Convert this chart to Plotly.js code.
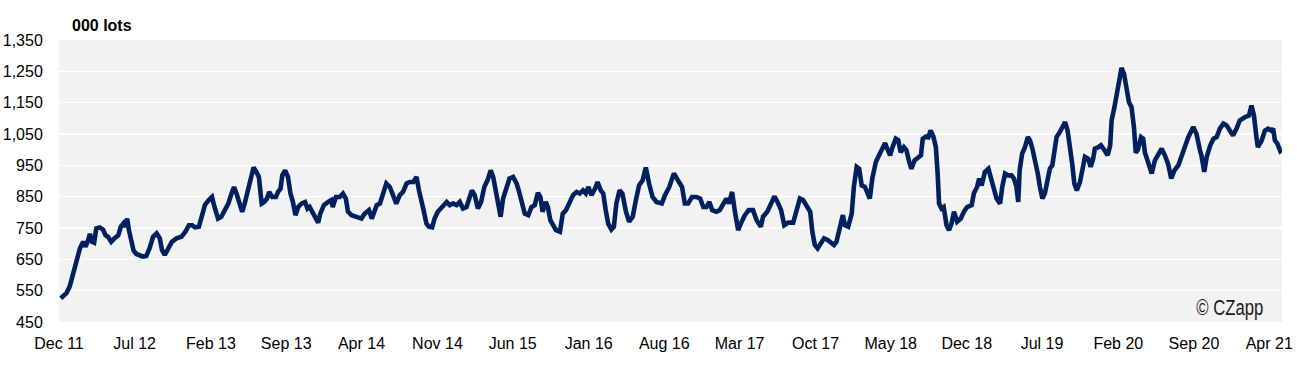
<!DOCTYPE html>
<html>
<head>
<meta charset="utf-8">
<script src="https://cdn.plot.ly/plotly-3.0.1.min.js"></script>
<style>
  html, body { margin: 0; padding: 0; background: #ffffff; }
  #chart { width: 1299px; height: 378px; }
</style>
</head>
<body>
<div id="chart"></div>
<script>
// Weekly-ish readings of open interest (000 lots)
const dates = [
"2011-12-06","2011-12-22","2011-12-31","2012-01-09","2012-01-19","2012-01-29","2012-02-07","2012-02-14","2012-02-21","2012-02-26",
"2012-03-03","2012-03-09","2012-03-15","2012-03-25","2012-04-03","2012-04-10","2012-04-17","2012-04-26","2012-05-05","2012-05-16",
"2012-05-23","2012-05-30","2012-06-03","2012-06-10","2012-06-15","2012-06-22","2012-06-28","2012-07-06","2012-07-18","2012-07-24",
"2012-08-03","2012-08-12","2012-08-22","2012-09-01","2012-09-10","2012-09-16","2012-09-24","2012-10-03","2012-10-14","2012-10-27",
"2012-11-10","2012-11-21","2012-12-01","2012-12-10","2012-12-18","2012-12-29","2013-01-07","2013-01-15","2013-01-24","2013-02-04",
"2013-02-11","2013-02-21","2013-03-02","2013-03-12","2013-03-22","2013-03-31","2013-04-07","2013-04-14","2013-04-23","2013-04-30",
"2013-05-07","2013-05-16","2013-05-26","2013-06-01","2013-06-09","2013-06-16","2013-06-24","2013-07-01","2013-07-09","2013-07-15",
"2013-07-24","2013-08-03","2013-08-09","2013-08-16","2013-08-21","2013-08-29","2013-09-06","2013-09-13","2013-09-20","2013-09-27",
"2013-10-05","2013-10-14","2013-10-24","2013-10-31","2013-11-06","2013-11-16","2013-11-23","2013-11-30","2013-12-06","2013-12-16",
"2013-12-28","2014-01-06","2014-01-10","2014-01-19","2014-01-30","2014-02-08","2014-02-16","2014-02-22","2014-03-04","2014-03-18",
"2014-04-01","2014-04-10","2014-04-22","2014-04-30","2014-05-07","2014-05-14","2014-05-23","2014-06-01","2014-06-10","2014-06-20",
"2014-06-26","2014-07-08","2014-07-18","2014-07-27","2014-08-06","2014-08-15","2014-08-25","2014-09-03","2014-09-10","2014-09-17",
"2014-09-23","2014-10-01","2014-10-08","2014-10-17","2014-10-24","2014-11-02","2014-11-14","2014-11-27","2014-12-06","2014-12-15",
"2014-12-25","2015-01-03","2015-01-12","2015-01-22","2015-01-31","2015-02-06","2015-02-14","2015-02-23","2015-03-04","2015-03-13",
"2015-03-22","2015-03-31","2015-04-07","2015-04-16","2015-04-24","2015-04-28","2015-05-05","2015-05-14","2015-05-23","2015-06-02",
"2015-06-12","2015-06-18","2015-06-28","2015-07-05","2015-07-15","2015-07-24","2015-08-02","2015-08-11","2015-08-18","2015-08-24",
"2015-09-02","2015-09-08","2015-09-15","2015-09-23","2015-10-01","2015-10-12","2015-10-20","2015-10-29","2015-11-07","2015-11-18",
"2015-11-28","2015-12-07","2015-12-16","2015-12-24","2015-12-31","2016-01-09","2016-01-19","2016-01-26","2016-02-04","2016-02-11",
"2016-02-18","2016-02-25","2016-03-05","2016-03-12","2016-03-19","2016-03-28","2016-04-05","2016-04-15","2016-04-24","2016-05-04",
"2016-05-13","2016-05-22","2016-06-01","2016-06-10","2016-06-19","2016-06-29","2016-07-10","2016-07-25","2016-08-03","2016-08-15",
"2016-08-28","2016-09-07","2016-09-14","2016-09-20","2016-09-28","2016-10-07","2016-10-18","2016-10-30","2016-11-10","2016-11-19",
"2016-11-28","2016-12-06","2016-12-14","2016-12-26","2017-01-04","2017-01-14","2017-01-23","2017-01-30","2017-02-08","2017-02-16",
"2017-02-25","2017-03-07","2017-03-16","2017-03-27","2017-04-08","2017-04-18","2017-04-30","2017-05-06","2017-05-18","2017-05-29",
"2017-06-07","2017-06-16","2017-06-26","2017-07-05","2017-07-16","2017-07-30","2017-08-08","2017-08-18","2017-08-27","2017-09-06",
"2017-09-16","2017-09-22","2017-09-29","2017-10-07","2017-10-16","2017-10-25","2017-11-04","2017-11-13","2017-11-22","2017-11-29",
"2017-12-06","2017-12-17","2017-12-23","2018-01-01","2018-01-11","2018-01-17","2018-01-25","2018-02-01","2018-02-08","2018-02-17",
"2018-02-23","2018-03-03","2018-03-10","2018-03-20","2018-03-29","2018-04-08","2018-04-15","2018-04-21","2018-04-29","2018-05-06",
"2018-05-15","2018-05-22","2018-05-29","2018-06-07","2018-06-14","2018-06-22","2018-06-28","2018-07-07","2018-07-18","2018-07-25",
"2018-07-30","2018-08-08","2018-08-15","2018-08-21","2018-08-29","2018-09-05","2018-09-10","2018-09-14","2018-09-21","2018-09-27",
"2018-10-05","2018-10-12","2018-10-19","2018-10-26","2018-11-04","2018-11-14","2018-11-23","2018-12-02","2018-12-15","2018-12-21",
"2018-12-30","2019-01-05","2019-01-12","2019-01-21","2019-01-31","2019-02-05","2019-02-14","2019-02-23","2019-03-05","2019-03-11",
"2019-03-19","2019-03-28","2019-04-06","2019-04-13","2019-04-20","2019-04-25","2019-04-29","2019-05-06","2019-05-14","2019-05-22",
"2019-05-28","2019-06-04","2019-06-11","2019-06-19","2019-06-25","2019-07-02","2019-07-09","2019-07-17","2019-07-23","2019-07-30",
"2019-08-04","2019-08-11","2019-08-20","2019-08-29","2019-09-04","2019-09-11","2019-09-18","2019-09-24","2019-09-30","2019-10-07",
"2019-10-16","2019-10-22","2019-10-30","2019-11-08","2019-11-15","2019-11-22","2019-11-27","2019-12-07","2019-12-14","2019-12-24",
"2020-01-02","2020-01-09","2020-01-13","2020-01-21","2020-01-27","2020-02-03","2020-02-10","2020-02-17","2020-02-24","2020-03-02",
"2020-03-09","2020-03-16","2020-03-21","2020-03-27","2020-04-05","2020-04-11","2020-04-16","2020-04-30","2020-05-05","2020-05-14",
"2020-05-25","2020-06-02","2020-06-11","2020-06-20","2020-06-29","2020-07-08","2020-07-19","2020-07-29","2020-08-07","2020-08-16",
"2020-08-30","2020-09-08","2020-09-18","2020-09-22","2020-09-30","2020-10-07","2020-10-17","2020-10-26","2020-11-04","2020-11-13",
"2020-11-23","2020-12-02","2020-12-11","2020-12-20","2020-12-30","2021-01-08","2021-01-23","2021-02-03","2021-02-10","2021-02-17",
"2021-02-24","2021-02-28","2021-03-11","2021-03-20","2021-03-29","2021-04-06","2021-04-12","2021-04-17","2021-04-24","2021-05-02",
"2021-05-06"
];
const lots = [
526,542,563,600,637,685,706,690,711,731,
706,703,749,752,745,727,722,706,717,727,
754,764,754,780,743,711,678,667,664,659,
661,685,722,733,717,680,664,685,706,717,
722,738,759,759,752,754,786,823,837,849,
817,780,786,807,828,860,881,860,828,802,
828,870,913,943,929,913,828,833,844,865,
849,849,865,876,918,934,913,860,833,791,
817,828,833,812,817,796,775,767,796,823,
833,839,817,849,849,860,844,802,791,786,
780,796,807,780,802,823,828,860,892,881,
860,828,855,865,892,897,897,913,870,828,
807,764,754,752,780,802,817,833,823,828,
823,833,812,817,849,870,855,812,833,881,
902,934,913,860,828,786,844,881,908,913,
892,870,820,796,791,817,823,862,849,802,
833,817,775,759,743,738,796,807,833,855,
865,860,870,860,881,855,876,897,870,860,
807,764,745,754,828,870,860,802,770,786,
839,886,902,943,892,849,833,828,855,881,
924,902,892,881,828,828,849,849,844,817,
817,833,807,802,807,828,844,828,865,802,
743,770,791,807,807,775,754,786,802,828,
851,833,807,759,767,767,802,844,839,823,
802,738,696,685,701,717,712,706,696,706,
743,791,759,754,796,881,945,939,886,881,
865,844,908,961,982,1008,1021,1003,982,1008,
1035,1030,992,1008,998,961,939,966,977,982,
1035,1042,1040,1061,1042,1008,924,828,812,817,
759,743,764,802,770,780,802,817,823,860,
881,908,886,929,939,913,881,844,828,881,
924,918,918,908,881,833,934,987,1008,1040,
1030,1003,971,924,881,844,860,902,939,950,
987,1040,1056,1072,1088,1061,1014,955,892,870,
897,939,977,971,945,971,1003,1008,1014,998,
982,1014,1093,1136,1178,1220,1261,1242,1204,1151,
1136,1072,990,1000,1040,1035,990,934,924,966,
987,1003,982,955,908,934,950,982,1014,1040,
1072,1051,998,982,929,977,1014,1035,1040,1067,
1083,1077,1061,1045,1067,1093,1104,1109,1141,1109,
1040,1008,1030,1061,1067,1061,1067,1030,1019,996,
1000
];

const tickDates = ["2011-12-01","2012-07-01","2013-02-01","2013-09-01","2014-04-01","2014-11-01",
  "2015-06-01","2016-01-01","2016-08-01","2017-03-01","2017-10-01","2018-05-01","2018-12-01",
  "2019-07-01","2020-02-01","2020-09-01","2021-04-01"];
const tickLabels = ["Dec 11","Jul 12","Feb 13","Sep 13","Apr 14","Nov 14","Jun 15","Jan 16",
  "Aug 16","Mar 17","Oct 17","May 18","Dec 18","Jul 19","Feb 20","Sep 20","Apr 21"];

const unitLabel = "000 lots";
const sourceLabel = "© CZapp";

const trace = {
  x: dates,
  y: lots,
  type: "scatter",
  mode: "lines",
  line: { color: "#002060", width: 4.6, shape: "linear" },
  hoverinfo: "x+y"
};

const layout = {
  width: 1299,
  height: 378,
  margin: { l: 59, r: 17, t: 40, b: 56, pad: 0 },
  paper_bgcolor: "#ffffff",
  plot_bgcolor: "#f2f2f2",
  showlegend: false,
  font: { family: "Arial, 'Liberation Sans', sans-serif", size: 16, color: "#000000" },
  xaxis: {
    type: "date",
    range: ["2011-12-01", "2021-05-07"],
    tickmode: "array",
    tickvals: tickDates,
    ticktext: tickLabels,
    showgrid: false,
    zeroline: false,
    showline: false,
    ticks: "outside",
    ticklen: 7,
    tickcolor: "rgba(0,0,0,0)",
    tickfont: { size: 16, color: "#000000" },
    fixedrange: true
  },
  yaxis: {
    range: [450, 1350],
    tick0: 450,
    dtick: 100,
    tickformat: ",d",
    showgrid: true,
    gridcolor: "#ffffff",
    gridwidth: 1.5,
    zeroline: false,
    showline: false,
    ticks: "outside",
    ticklen: 12,
    tickcolor: "rgba(0,0,0,0)",
    tickfont: { size: 16, color: "#000000" },
    fixedrange: true
  },
  annotations: [
    {
      text: "<b>" + unitLabel + "</b>",
      xref: "paper", yref: "paper",
      x: 0.009, y: 1.051,
      xanchor: "left", yanchor: "middle",
      showarrow: false,
      font: { size: 16, color: "#000000", family: "Arial, 'Liberation Sans', sans-serif" }
    },
    {
      text: sourceLabel,
      xref: "paper", yref: "paper",
      x: 0.986, y: 0.05,
      xanchor: "right", yanchor: "middle",
      showarrow: false,
      font: { size: 22, color: "#1a1a1a", family: "'Liberation Sans Narrow', 'Arial Narrow', Arial, sans-serif" }
    }
  ]
};

Plotly.newPlot("chart", [trace], layout, { displayModeBar: false, staticPlot: true }).then(function () {
  // condense the copyright text to the narrow look of the original
  document.querySelectorAll("#chart .annotation-text").forEach(function (t) {
    if (t.textContent.indexOf("CZapp") >= 0) {
      const bb = t.getBBox();
      if (bb.width > 70) {
        const right = bb.x + bb.width;
        t.setAttribute("text-anchor", "end");
        t.setAttribute("x", right);
        t.setAttribute("textLength", "67");
        t.setAttribute("lengthAdjust", "spacingAndGlyphs");
      }
    }
  });
});
</script>
</body>
</html>
